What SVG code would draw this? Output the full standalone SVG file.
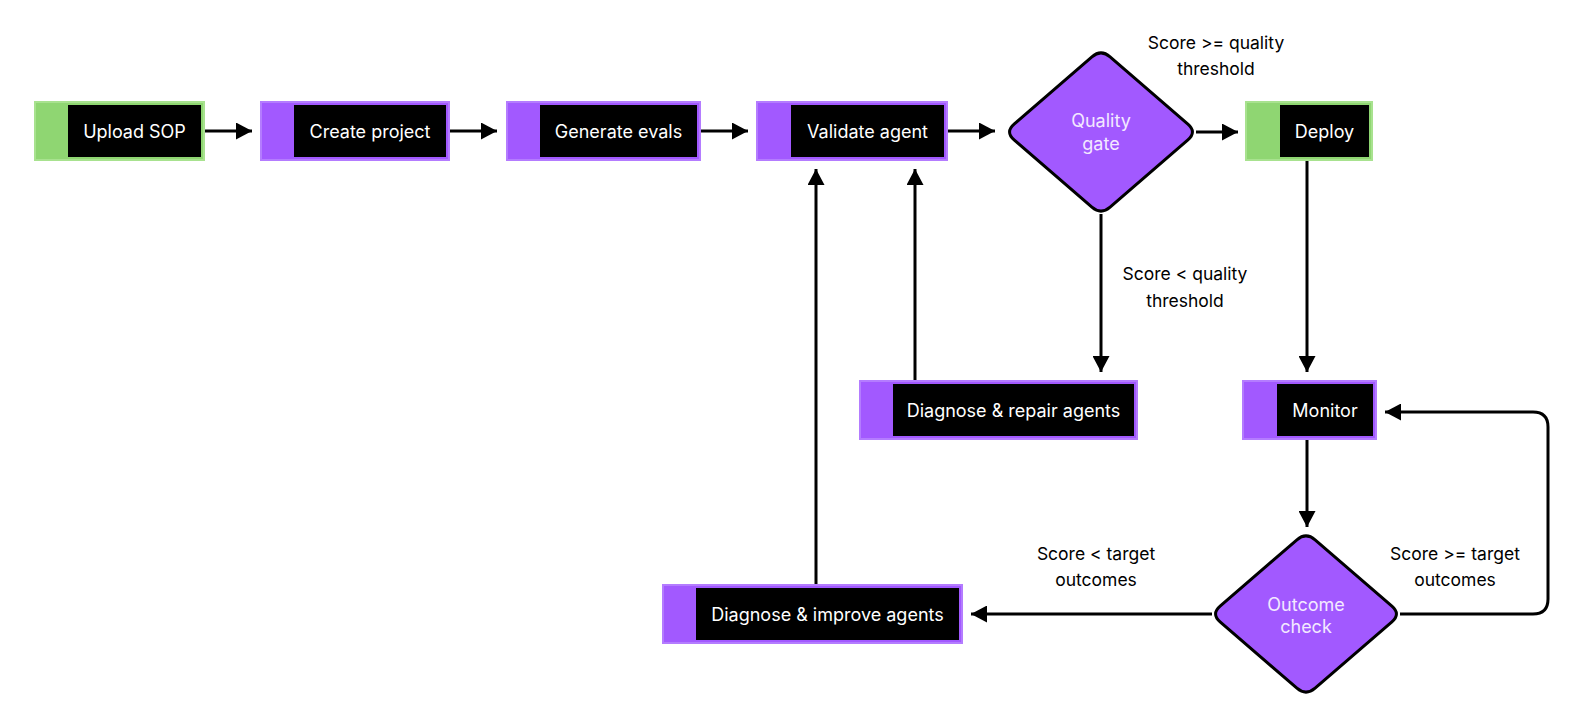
<svg xmlns="http://www.w3.org/2000/svg" width="1584" height="728" viewBox="0 0 1584 728">
<style>
  .bg { fill: #ffffff; }
  .green { fill: #8fd672; stroke: #a8e28f; stroke-width: 2; }
  .purple { fill: #a259ff; stroke: #b47cff; stroke-width: 2; }
  .inner { fill: #000000; }
  .ntext { font-family: Inter, "Noto Sans", "Liberation Sans", sans-serif; font-size: 18px; fill: #ffffff; text-anchor: middle; dominant-baseline: central; }
  .dia { fill: #a259ff; stroke: #000000; stroke-width: 3; stroke-linejoin: round; }
  .dtext { font-family: Inter, "Noto Sans", "Liberation Sans", sans-serif; font-size: 18px; fill: #f3e9ff; text-anchor: middle; dominant-baseline: central; }
  .label { font-family: Inter, "Noto Sans", "Liberation Sans", sans-serif; font-size: 17.5px; fill: #000000; text-anchor: middle; dominant-baseline: central; }
  .conn { fill: none; stroke: #000000; stroke-width: 3; marker-end: url(#arrow); }
</style>
<defs>
  <marker id="arrow" markerUnits="userSpaceOnUse" markerWidth="17" markerHeight="17" refX="16" refY="8.5" orient="auto">
    <path d="M0,0 L16,8.5 L0,17 Z" fill="#000000"/>
  </marker>
</defs>
<rect class="bg" x="0" y="0" width="1584" height="728"/>

<g id="connectors">
  <path class="conn" d="M204,131 H252"/>
  <path class="conn" d="M449,131 H497"/>
  <path class="conn" d="M700,131 H748"/>
  <path class="conn" d="M947,131 H995"/>
  <path class="conn" d="M1196,132 H1238"/>
  <path class="conn" d="M1101,214 V372"/>
  <path class="conn" d="M1307,160 V372"/>
  <path class="conn" d="M915,381 V169"/>
  <path class="conn" d="M816,585 V169"/>
  <path class="conn" d="M1307,439 V527"/>
  <path class="conn" d="M1212,614 H971"/>
  <path class="conn" d="M1400,614 H1533 Q1548,614 1548,599 V427 Q1548,412 1533,412 H1385"/>
</g>

<g id="labels">
  <text class="label" x="1216" y="42">Score &gt;= quality</text>
  <text class="label" x="1216" y="68">threshold</text>
  <text class="label" x="1185" y="273">Score &lt; quality</text>
  <text class="label" x="1185" y="300">threshold</text>
  <text class="label" x="1096" y="553">Score &lt; target</text>
  <text class="label" x="1096" y="579">outcomes</text>
  <text class="label" x="1455" y="553">Score &gt;= target</text>
  <text class="label" x="1455" y="579">outcomes</text>
</g>

<g id="upload-sop">
  <rect class="green" x="35" y="102" width="169" height="58"/>
  <rect class="inner" x="68" y="105" width="133" height="52"/>
  <text class="ntext" x="134.5" y="131">Upload SOP</text>
</g>
<g id="create-project">
  <rect class="purple" x="261" y="102" width="188" height="58"/>
  <rect class="inner" x="294" y="105" width="152" height="52"/>
  <text class="ntext" x="370" y="131">Create project</text>
</g>
<g id="generate-evals">
  <rect class="purple" x="507" y="102" width="193" height="58"/>
  <rect class="inner" x="540" y="105" width="157" height="52"/>
  <text class="ntext" x="618.5" y="131">Generate evals</text>
</g>
<g id="validate-agent">
  <rect class="purple" x="757" y="102" width="190" height="58"/>
  <rect class="inner" x="791" y="105" width="153" height="52"/>
  <text class="ntext" x="867.5" y="131">Validate agent</text>
</g>
<g id="quality-gate">
  <path class="dia" d="M1110.1,56.85 L1187.9,124.15 Q1197,132 1187.9,139.85 L1110.1,207.15 Q1101,215 1091.9,207.15 L1014.1,139.85 Q1005,132 1014.1,124.15 L1091.9,56.85 Q1101,49 1110.1,56.85 Z"/>
  <text class="dtext" x="1101" y="120">Quality</text>
  <text class="dtext" x="1101" y="143">gate</text>
</g>
<g id="deploy">
  <rect class="green" x="1246" y="102" width="126" height="58"/>
  <rect class="inner" x="1280" y="105" width="89" height="52"/>
  <text class="ntext" x="1324.5" y="131">Deploy</text>
</g>
<g id="diagnose-repair">
  <rect class="purple" x="860" y="381" width="277" height="58"/>
  <rect class="inner" x="893" y="384" width="241" height="52"/>
  <text class="ntext" x="1013.5" y="410">Diagnose &amp; repair agents</text>
</g>
<g id="monitor">
  <rect class="purple" x="1243" y="381" width="133" height="58"/>
  <rect class="inner" x="1277" y="384" width="96" height="52"/>
  <text class="ntext" x="1325" y="410">Monitor</text>
</g>
<g id="outcome-check">
  <path class="dia" d="M1315.1,539.8 L1391.9,606.2 Q1401,614 1391.9,621.8 L1315.1,688.2 Q1306,696 1296.9,688.2 L1220.1,621.8 Q1211,614 1220.1,606.2 L1296.9,539.8 Q1306,532 1315.1,539.8 Z"/>
  <text class="dtext" x="1306" y="604">Outcome</text>
  <text class="dtext" x="1306" y="626">check</text>
</g>
<g id="diagnose-improve">
  <rect class="purple" x="663" y="585" width="299" height="58"/>
  <rect class="inner" x="696" y="588" width="263" height="52"/>
  <text class="ntext" x="827.5" y="614">Diagnose &amp; improve agents</text>
</g>
</svg>
